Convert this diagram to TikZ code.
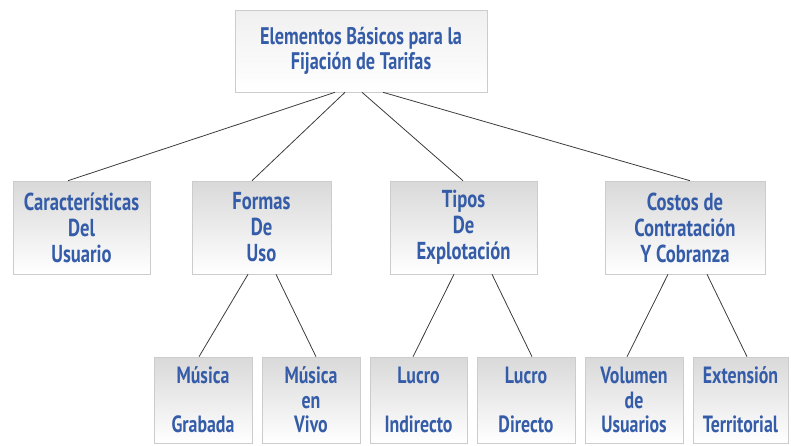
\documentclass[tikz,border=0pt]{standalone}
\usepackage{fontspec}
\setmainfont[FakeStretch=0.76]{PT Sans}
\definecolor{txtblue}{RGB}{52,92,168}
\definecolor{linegray}{RGB}{60,60,60}
\begin{document}
\begin{tikzpicture}[x=1pt,y=-1pt,
  box/.style={draw=gray!40, line width=0.6pt, top color=gray!30, bottom color=white,
    inner sep=0pt, align=center, text=txtblue},
  topbox/.style={box, top color=gray!12, font=\bfseries\fontsize{24}{25}\selectfont},
  midbox/.style={box, font=\bfseries\fontsize{24.5}{26}\selectfont, minimum height=93pt},
  lowbox/.style={box, font=\bfseries\fontsize{23.5}{24.5}\selectfont, minimum height=86pt},
  conn/.style={draw=linegray, line width=0.8pt}]
\useasboundingbox (0,0) rectangle (791,445);
\node[topbox, minimum width=252pt, minimum height=82pt] (top) at (361,51) {Elementos Básicos para la\\Fijación de Tarifas};
\node[midbox, minimum width=137pt] (c1) at (81.5,227.5) {Características\\Del\\Usuario};
\node[midbox, minimum width=139pt] (c2) at (261.5,227.5) {Formas\\De\\Uso};
\node[midbox, minimum width=147pt] (c3) at (463.5,227.5) {Tipos\\De\\Explotación};
\node[midbox, minimum width=160pt] (c4) at (685,227.5) {Costos de\\Contratación\\Y Cobranza};
\node[lowbox, minimum width=98pt] (d1) at (203,400) {Música\\\mbox{}\\Grabada};
\node[lowbox, minimum width=98pt] (d2) at (311,400) {Música\\en\\Vivo};
\node[lowbox, minimum width=97pt] (d3) at (418.5,400) {Lucro\\\mbox{}\\Indirecto};
\node[lowbox, minimum width=98pt] (d4) at (526,400) {Lucro\\\mbox{}\\Directo};
\node[lowbox, minimum width=98pt] (d5) at (634,400) {Volumen\\de\\Usuarios};
\node[lowbox, minimum width=95pt] (d6) at (740.5,400) {Extensión\\\mbox{}\\Territorial};
\path[conn] (335,0 |- top.south) -- (68,0 |- c1.north);
\path[conn] (345,0 |- top.south) -- (252,0 |- c2.north);
\path[conn] (362,0 |- top.south) -- (463,0 |- c3.north);
\path[conn] (383,0 |- top.south) -- (690,0 |- c4.north);
\path[conn] (248,0 |- c2.south) -- (199,0 |- d1.north);
\path[conn] (276,0 |- c2.south) -- (316,0 |- d2.north);
\path[conn] (454,0 |- c3.south) -- (413,0 |- d3.north);
\path[conn] (492,0 |- c3.south) -- (532,0 |- d4.north);
\path[conn] (668,0 |- c4.south) -- (627,0 |- d5.north);
\path[conn] (707,0 |- c4.south) -- (747,0 |- d6.north);
\end{tikzpicture}
\end{document}
